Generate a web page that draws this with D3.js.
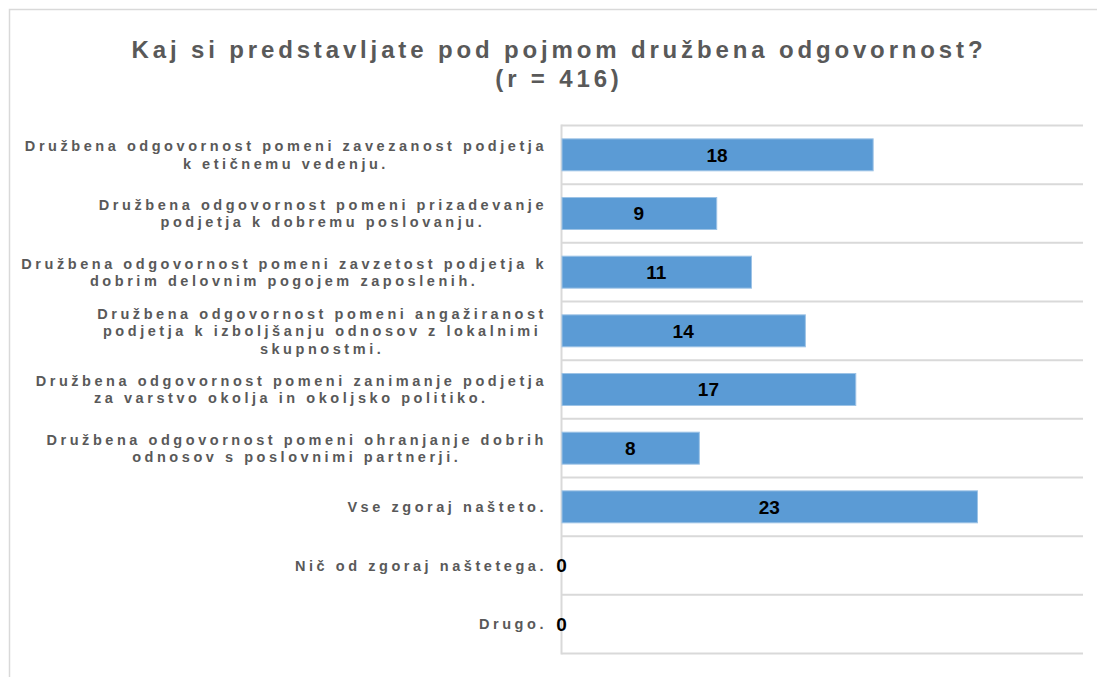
<!DOCTYPE html>
<html>
<head>
<meta charset="utf-8">
<script src="https://cdn.jsdelivr.net/npm/d3@7"></script>
<style>
    body { margin: 0; background: #ffffff; }
    svg { display: block; }
</style>
</head>
<body>
<svg id="chart" width="1097" height="677"></svg>
<script>
// Data
var titleLines = ['Kaj si predstavljate pod pojmom družbena odgovornost?', '(r = 416)'];

var categories = [
    ['Družbena odgovornost pomeni zavezanost podjetja', 'k etičnemu vedenju.'],
    ['Družbena odgovornost pomeni prizadevanje', 'podjetja k dobremu poslovanju.'],
    ['Družbena odgovornost pomeni zavzetost podjetja k', 'dobrim delovnim pogojem zaposlenih.'],
    ['Družbena odgovornost pomeni angažiranost', 'podjetja k izboljšanju odnosov z lokalnimi', 'skupnostmi.'],
    ['Družbena odgovornost pomeni zanimanje podjetja', 'za varstvo okolja in okoljsko politiko.'],
    ['Družbena odgovornost pomeni ohranjanje dobrih', 'odnosov s poslovnimi partnerji.'],
    ['Vse zgoraj našteto.'],
    ['Nič od zgoraj naštetega.'],
    ['Drugo.']
];

// bar lengths (%), labels as printed
var values = [17.9, 8.9, 10.9, 14.0, 16.9, 7.9, 23.9, 0, 0];
var valueLabels = ['18', '9', '11', '14', '17', '8', '23', '0', '0'];

var xMax = 30;

// Layout
var svg = d3.select('#chart');
var margin = { top: 125.5, left: 561.5, right: 1083, bottom: 653.5 };
var labelRight = 547;
var font = '"Liberation Sans Narrow", "Arial Narrow", "Liberation Sans", Arial, sans-serif';

// outer frame
svg.append('rect')
    .attr('x', 9.5)
    .attr('y', 9.5)
    .attr('width', 1200)
    .attr('height', 1000)
    .attr('fill', 'none')
    .attr('stroke', '#d9d9d9')
    .attr('stroke-width', 1.5);

// Title
svg.append('text')
    .attr('class', 'title')
    .attr('x', 559)
    .attr('y', 58)
    .attr('text-anchor', 'middle')
    .attr('font-family', font)
    .attr('font-weight', 'bold')
    .attr('font-size', '24px')
    .attr('letter-spacing', '3.85px')
    .attr('fill', '#595959')
    .selectAll('tspan')
    .data(titleLines)
    .enter()
    .append('tspan')
    .attr('x', 559)
    .attr('dy', function(d, i) { return i === 0 ? 0 : 29; })
    .text(function(d) { return d; });

// Scales
var x = d3.scaleLinear()
    .domain([0, xMax])
    .range([margin.left, margin.right]);

var y = d3.scaleBand()
    .domain(d3.range(categories.length))
    .range([margin.top, margin.bottom])
    .paddingInner(0.455)
    .paddingOuter(0.2275);

var step = y.step();

var rows = values.map(function(v, i) {
    return { index: i, value: v, label: valueLabels[i] };
});

// Gridlines between categories
svg.append('g')
    .attr('class', 'grid')
    .selectAll('line')
    .data(d3.range(categories.length + 1))
    .enter()
    .append('line')
    .attr('x1', margin.left)
    .attr('x2', margin.right)
    .attr('y1', function(d) { return margin.top + d * step; })
    .attr('y2', function(d) { return margin.top + d * step; })
    .attr('stroke', '#d9d9d9')
    .attr('stroke-width', 2);

// Category axis line
svg.append('line')
    .attr('x1', margin.left)
    .attr('x2', margin.left)
    .attr('y1', margin.top - 1)
    .attr('y2', margin.bottom + 1)
    .attr('stroke', '#d9d9d9')
    .attr('stroke-width', 2);

// Bars
svg.selectAll('.bar')
    .data(rows.filter(function(d) { return d.value > 0; }))
    .enter()
    .append('rect')
    .attr('class', 'bar')
    .attr('x', x(0) + 0.5)
    .attr('y', function(d) { return y(d.index); })
    .attr('width', function(d) { return x(d.value) - x(0); })
    .attr('height', y.bandwidth())
    .attr('fill', '#5b9bd5')
    .attr('stroke', '#9dc3e6')
    .attr('stroke-width', 1);

// Value labels
svg.selectAll('.value')
    .data(rows)
    .enter()
    .append('text')
    .attr('class', 'value')
    .attr('x', function(d) { return (x(0) + x(d.value)) / 2; })
    .attr('y', function(d) { return y(d.index) + y.bandwidth() / 2; })
    .attr('dy', '0.36em')
    .attr('text-anchor', 'middle')
    .attr('font-family', font)
    .attr('font-weight', 'bold')
    .attr('font-size', '19px')
    .attr('fill', '#000000')
    .text(function(d) { return d.label; });

// Category labels: block right aligned, lines centred inside it
var lineHeight = 17.5;
var labels = svg.append('g').attr('class', 'labels');

categories.forEach(function(lines, i) {
    var cy = y(i) + y.bandwidth() / 2;
    var t = labels.append('g')
        .selectAll('text')
        .data(lines)
        .enter()
        .append('text')
        .attr('y', function(d, j) { return cy + (j - (lines.length - 1) / 2) * lineHeight; })
        .attr('dy', '0.36em')
        .attr('text-anchor', 'middle')
        .attr('font-family', font)
        .attr('font-weight', 'bold')
        .attr('font-size', '14.5px')
        .attr('letter-spacing', '3.55px')
        .attr('fill', '#595959')
        .text(function(d) { return d; });

    var w = 0;
    t.each(function() { w = Math.max(w, this.getComputedTextLength()); });
    t.attr('x', labelRight - w / 2);
});
</script>
</body>
</html>
